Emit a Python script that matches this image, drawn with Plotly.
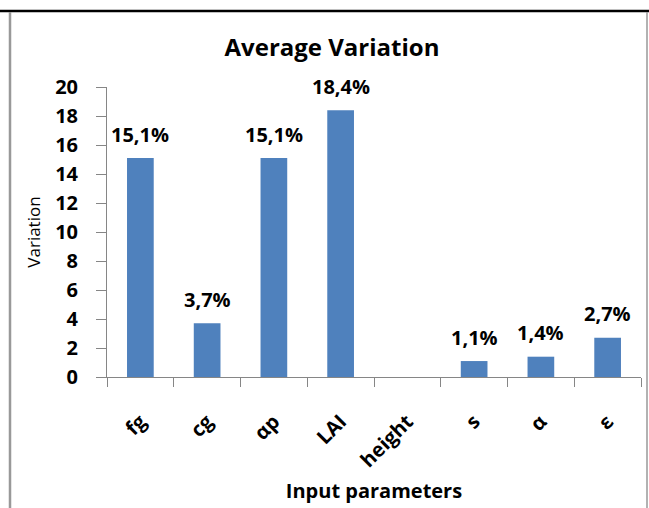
import plotly.graph_objects as go

categories = ["fg", "cg", "αp", "LAI", "height", "s", "α", "ε"]
values = [15.1, 3.7, 15.1, 18.4, 0.0, 1.1, 1.4, 2.7]
labels = ["15,1%", "3,7%", "15,1%", "18,4%", "", "1,1%", "1,4%", "2,7%"]
y_ticks = [0, 2, 4, 6, 8, 10, 12, 14, 16, 18, 20]

FONT = "Open Sans"
AX = "#868686"

fig = go.Figure()
fig.add_trace(go.Bar(
    x=categories, y=values, width=0.4,
    marker=dict(color="#4F81BD", line=dict(width=0)),
    hoverinfo="x+y",
))

annotations = []
for c, v, t in zip(categories, values, labels):
    if t:
        annotations.append(dict(
            x=c, y=v, xref="x", yref="y", text=t, showarrow=False,
            yanchor="middle", yshift=24,
            font=dict(family=FONT, size=20, color="#000000", weight="bold"),
        ))

# plot area: x 107..641 px, y 87..377 px (width 534, height 290)
L, R, T, B = 107, 8, 87, 131
W, H = 649, 508
pw, ph = W - L - R, H - T - B

def px(xp):
    return (xp - L) / pw

def py(yp):
    return (H - B - yp) / ph

shapes = [
    dict(type="line", xref="paper", yref="paper", x0=px(0), x1=px(649), y0=py(11), y1=py(11),
         line=dict(color="#000000", width=2.5)),
    dict(type="line", xref="paper", yref="paper", x0=px(10), x1=px(10), y0=py(12), y1=py(508),
         line=dict(color="#999999", width=2.5)),
    dict(type="line", xref="paper", yref="paper", x0=px(647), x1=px(647), y0=py(12), y1=py(508),
         line=dict(color="#999999", width=1.5)),
]

fig.update_layout(
    width=W, height=H,
    margin=dict(l=L, r=R, t=T, b=B),
    paper_bgcolor="white", plot_bgcolor="white",
    showlegend=False,
    bargap=0.6,
    title=dict(text="Average Variation", x=332 / W, xanchor="center", y=1 - 48 / H, yanchor="middle",
               xref="container", yref="container",
               font=dict(family=FONT, size=24, color="#000000", weight="bold")),
    annotations=annotations,
    shapes=shapes,
    xaxis=dict(
        type="category", range=[-0.5, 7.5],
        showline=True, linecolor=AX, linewidth=1,
        ticks="outside", ticklen=9, tickcolor=AX, tickwidth=1,
        tickson="boundaries",
        tickangle=-45, ticklabelstandoff=24,
        tickfont=dict(family=FONT, size=20, color="#000000", weight="bold"),
        showgrid=False, zeroline=False,
        title=dict(text="Input parameters", standoff=12,
                   font=dict(family=FONT, size=20, color="#000000", weight="bold")),
    ),
    yaxis=dict(
        range=[0, 20], tickvals=y_ticks,
        showline=True, linecolor=AX, linewidth=1,
        ticks="outside", ticklen=10, tickcolor=AX, tickwidth=1,
        ticklabelstandoff=14,
        tickfont=dict(family=FONT, size=20, color="#000000", weight="bold"),
        showgrid=False, zeroline=False,
        title=dict(text="Variation", standoff=10,
                   font=dict(family=FONT, size=17, color="#000000")),
    ),
)

fig.write_html("out.html", config={"displayModeBar": False},
               post_script="document.body.style.margin='0';")
